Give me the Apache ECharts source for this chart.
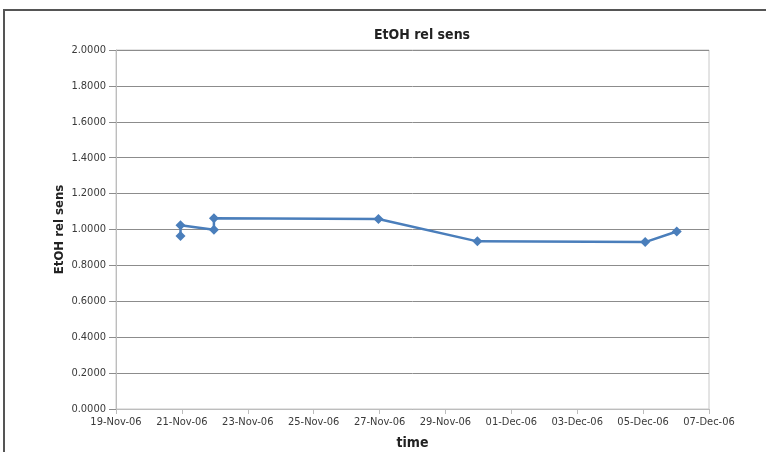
<!DOCTYPE html>
<html>
<head>
<meta charset="utf-8">
<script src="https://cdn.jsdelivr.net/npm/echarts@6/dist/echarts.min.js"></script>
<style>
  html, body { margin: 0; padding: 0; background: #fff; }
  #chart { width: 766px; height: 452px; }
</style>
</head>
<body>
<div id="chart"></div>
<script>
// Measurement times and relative ethanol sensitivity readings
const sampleTimes = [
  '2006-11-20 23:00', '2006-11-20 23:00',
  '2006-11-21 23:20', '2006-11-21 23:20',
  '2006-11-26 23:10', '2006-11-29 23:15',
  '2006-12-05 01:30', '2006-12-06 00:30'
];
const relSens = [0.964, 1.024, 0.998, 1.063, 1.058, 0.934, 0.930, 0.989];

// Axis settings
const xStartDate = '2006-11-19';
const xEndDate = '2006-12-07';
const yTicks = [0, 0.2, 0.4, 0.6, 0.8, 1.0, 1.2, 1.4, 1.6, 1.8, 2.0];

const MONTHS = ['Jan','Feb','Mar','Apr','May','Jun','Jul','Aug','Sep','Oct','Nov','Dec'];
const DAY = 86400000;

function parseUTC(s) {
  const [d, t] = s.split(' ');
  const [y, m, dd] = d.split('-').map(Number);
  let hh = 0, mm = 0;
  if (t) { [hh, mm] = t.split(':').map(Number); }
  return Date.UTC(y, m - 1, dd, hh, mm);
}
const origin = parseUTC(xStartDate);
const toDays = s => (parseUTC(s) - origin) / DAY;
function dayLabel(v) {
  const dt = new Date(origin + Math.round(v) * DAY);
  const dd = String(dt.getUTCDate()).padStart(2, '0');
  const yy = String(dt.getUTCFullYear()).slice(2);
  return dd + '-' + MONTHS[dt.getUTCMonth()] + '-' + yy;
}

const points = sampleTimes.map((t, i) => [toDays(t), relSens[i]]);

const FONT = '"Liberation Sans Narrow", "Arial Narrow", "DejaVu Sans Condensed", "Liberation Sans", sans-serif';

const chart = echarts.init(document.getElementById('chart'), null, { renderer: 'canvas' });
chart.setOption({
  animation: false,
  backgroundColor: '#ffffff',
  title: {
    text: 'EtOH rel sens',
    left: 417,
    textAlign: 'center',
    top: 23,
    textStyle: { fontFamily: FONT, fontSize: 14, fontWeight: 'bold', color: '#222' }
  },
  grid: {
    left: 116, right: 57, top: 50, bottom: 43,
    outerBoundsMode: 'none',
    show: true, borderColor: '#c8c8c8', borderWidth: 1, backgroundColor: 'transparent'
  },
  xAxis: {
    type: 'value',
    min: 0,
    max: toDays(xEndDate),
    interval: 2,
    name: 'time',
    nameLocation: 'middle',
    nameGap: 27,
    nameMoveOverlap: false,
    nameTextStyle: { fontFamily: FONT, fontSize: 14, fontWeight: 'bold', color: '#222' },
    axisLine: { show: true, onZero: false, lineStyle: { color: '#bdbdbd', width: 1 } },
    axisTick: { show: true, length: 5, lineStyle: { color: '#bdbdbd' } },
    axisLabel: { formatter: dayLabel, fontFamily: FONT, fontSize: 11, color: '#3a3a3a', margin: 8 },
    splitLine: { show: false }
  },
  yAxis: {
    type: 'value',
    min: yTicks[0],
    max: yTicks[yTicks.length - 1],
    interval: 0.2,
    name: 'EtOH rel sens',
    nameLocation: 'middle',
    nameGap: 50,
    nameMoveOverlap: false,
    nameTextStyle: { fontFamily: FONT, fontSize: 13, fontWeight: 'bold', color: '#222' },
    axisLine: { show: true, lineStyle: { color: '#bdbdbd', width: 1 } },
    axisTick: { show: true, length: 7, lineStyle: { color: '#8c8c8c' } },
    axisLabel: { formatter: v => v.toFixed(4), fontFamily: FONT, fontSize: 11, color: '#3a3a3a', margin: 10 },
    splitLine: { show: true, lineStyle: { color: '#8c8c8c', width: 1 } }
  },
  series: [{
    type: 'line',
    data: points,
    symbol: 'diamond',
    symbolSize: 10,
    lineStyle: { color: '#4a7ebb', width: 2.5 },
    itemStyle: { color: '#4a7ebb' }
  }],
  graphic: [
    { type: 'line', shape: { x1: 3, y1: 10, x2: 766, y2: 10 }, style: { stroke: '#555', lineWidth: 2 } },
    { type: 'line', shape: { x1: 4, y1: 10, x2: 4, y2: 452 }, style: { stroke: '#555', lineWidth: 2 } }
  ]
});
</script>
</body>
</html>
